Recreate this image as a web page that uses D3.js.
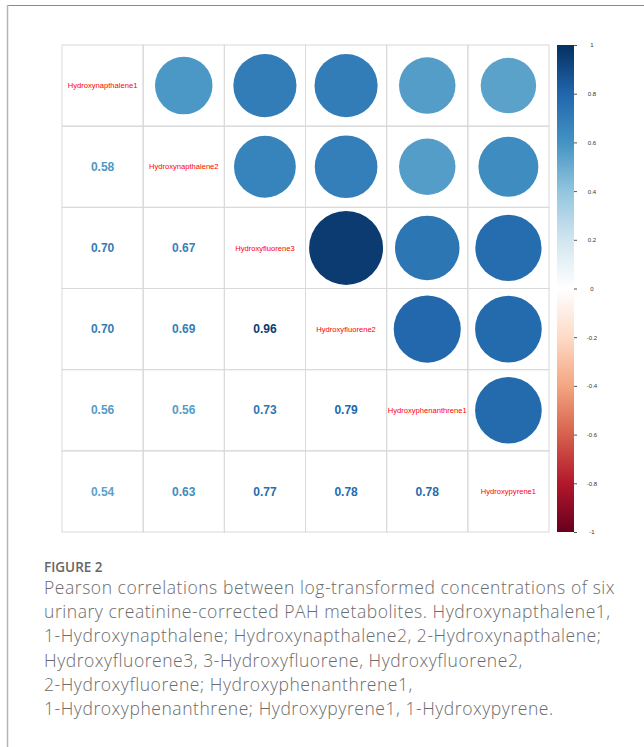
<!DOCTYPE html>
<html>
<head>
<meta charset="utf-8">
<script src="https://cdn.jsdelivr.net/npm/d3@7"></script>
<style>
  body { margin: 0; background: #fff; }
  svg { display: block; }
</style>
</head>
<body>
<svg id="chart" width="644" height="747"></svg>
<script>
// variables (diagonal order)
const vars = ["Hydroxynapthalene1", "Hydroxynapthalene2", "Hydroxyfluorene3",
              "Hydroxyfluorene2", "Hydroxyphenanthrene1", "Hydroxypyrene1"];

// lower triangle, row by row (row i has i values)
const lowerRows = [
  [],
  [0.58],
  [0.70, 0.67],
  [0.70, 0.69, 0.96],
  [0.56, 0.56, 0.73, 0.79],
  [0.54, 0.63, 0.77, 0.78, 0.78]
];

const legendTicks = [-1, -0.8, -0.6, -0.4, -0.2, 0, 0.2, 0.4, 0.6, 0.8, 1];
const rdbu = ["#67001F", "#B2182B", "#D6604D", "#F4A582", "#FDDBC7", "#FFFFFF",
              "#D1E5F0", "#92C5DE", "#4393C3", "#2166AC", "#053061"];

const captionTitle = "FIGURE 2";
const captionLines = [
  "Pearson correlations between log-transformed concentrations of six",
  "urinary creatinine-corrected PAH metabolites. Hydroxynapthalene1,",
  "1-Hydroxynapthalene; Hydroxynapthalene2, 2-Hydroxynapthalene;",
  "Hydroxyfluorene3, 3-Hydroxyfluorene, Hydroxyfluorene2,",
  "2-Hydroxyfluorene; Hydroxyphenanthrene1,",
  "1-Hydroxyphenanthrene; Hydroxypyrene1, 1-Hydroxypyrene."
];

const svg = d3.select("#chart");

// card border (top + left)
svg.append("line").attr("x1", 7).attr("x2", 644).attr("y1", 5.5).attr("y2", 5.5)
  .attr("stroke", "#8a8a8a").attr("stroke-width", 1);
svg.append("line").attr("x1", 7.5).attr("x2", 7.5).attr("y1", 5).attr("y2", 747)
  .attr("stroke", "#b5b5b5").attr("stroke-width", 1.5);

const x0 = 62, y0 = 45, size = 487;
const n = vars.length;
const x = d3.scaleBand().domain(d3.range(n)).range([x0, x0 + size]);
const y = d3.scaleBand().domain(d3.range(n)).range([y0, y0 + size]);
const color = d3.scaleLinear().domain(d3.range(-1, 1.0001, 0.2)).range(rdbu);
// corrplot: circle area ~ |r|
const rad = d3.scaleSqrt().domain([0, 1]).range([0, x.bandwidth() / 2 * 0.93]);

function corr(i, j) {
  if (i === j) return 1;
  return i > j ? lowerRows[i][j] : lowerRows[j][i];
}

const cells = [];
for (let i = 0; i < n; i++) for (let j = 0; j < n; j++) cells.push({ i, j, r: corr(i, j) });

const g = svg.append("g");

// grid
g.selectAll("rect.cell").data(cells).join("rect")
  .attr("class", "cell")
  .attr("x", d => x(d.j)).attr("y", d => y(d.i))
  .attr("width", x.bandwidth()).attr("height", y.bandwidth())
  .attr("fill", "none").attr("stroke", "#d9d9d9").attr("stroke-width", 1);

// upper: circles
g.selectAll("circle.c").data(cells.filter(d => d.j > d.i)).join("circle")
  .attr("class", "c")
  .attr("cx", d => x(d.j) + x.bandwidth() / 2)
  .attr("cy", d => y(d.i) + y.bandwidth() / 2)
  .attr("r", d => rad(Math.abs(d.r)))
  .attr("fill", d => color(d.r));

// lower: numbers
g.selectAll("text.num").data(cells.filter(d => d.j < d.i)).join("text")
  .attr("class", "num")
  .attr("x", d => x(d.j) + x.bandwidth() / 2)
  .attr("y", d => y(d.i) + y.bandwidth() / 2)
  .attr("dy", "0.35em")
  .attr("text-anchor", "middle")
  .attr("font-family", "Liberation Sans, Arial, sans-serif")
  .attr("font-weight", "bold")
  .attr("font-size", 12)
  .attr("fill", d => color(d.r))
  .text(d => d.r.toFixed(2));

// diagonal labels
g.selectAll("text.lab").data(vars).join("text")
  .attr("class", "lab")
  .attr("x", (d, i) => x(i) + x.bandwidth() / 2)
  .attr("y", (d, i) => y(i) + y.bandwidth() / 2)
  .attr("dy", "0.35em")
  .attr("text-anchor", "middle")
  .attr("font-family", "Liberation Sans, Arial, sans-serif")
  .attr("font-size", 7.6)
  .attr("fill", "#ff0000")
  .text(d => d);

// color legend
const lx = 557, lw = 17;
const ly = d3.scaleLinear().domain([-1, 1]).range([y0 + size, y0]);
const defs = svg.append("defs");
const grad = defs.append("linearGradient").attr("id", "cbar")
  .attr("x1", 0).attr("x2", 0).attr("y1", 1).attr("y2", 0);
grad.selectAll("stop").data(rdbu).join("stop")
  .attr("offset", (d, i) => i / (rdbu.length - 1))
  .attr("stop-color", d => d);
svg.append("rect").attr("x", lx).attr("y", y0).attr("width", lw).attr("height", size)
  .attr("fill", "url(#cbar)");

const axis = svg.append("g")
  .attr("transform", `translate(${lx + lw},0)`)
  .call(d3.axisRight(ly).tickValues(legendTicks).tickSize(3).tickFormat(d => String(+d.toFixed(1))));
axis.select(".domain").remove();
axis.selectAll("line").attr("stroke", "#555");
axis.selectAll("text")
  .attr("x", 18).attr("text-anchor", "middle")
  .attr("font-family", "Liberation Sans, Arial, sans-serif")
  .attr("font-size", 6).attr("fill", "#333");

// caption
svg.append("text").attr("x", 44).attr("y", 572)
  .attr("font-family", "Open Sans, sans-serif")
  .attr("font-weight", 600).attr("font-size", 13.5).attr("fill", "#666")
  .text(captionTitle);
svg.append("g").selectAll("text").data(captionLines).join("text")
  .attr("x", 44).attr("y", (d, i) => 594 + i * 24.2)
  .attr("font-family", "Open Sans, sans-serif")
  .attr("font-weight", 300)
  .attr("font-size", 17.5).attr("letter-spacing", 0.55).attr("fill", "#6b6b6b")
  .text(d => d);
</script>
</body>
</html>
